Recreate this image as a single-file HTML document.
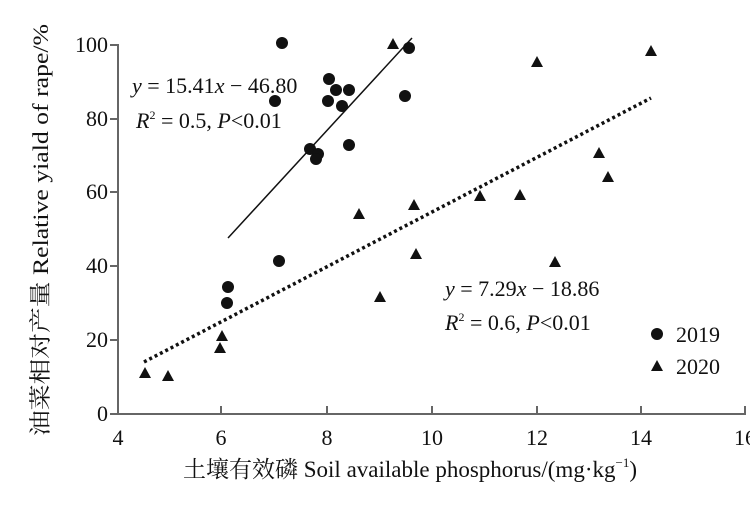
<!DOCTYPE html>
<html><head><meta charset="utf-8"><style>
body{margin:0;background:#fff}
svg text{font-family:"Liberation Serif","Noto Serif CJK SC",serif;fill:#111}
</style></head><body>
<svg width="750" height="500" viewBox="0 0 750 500" xmlns="http://www.w3.org/2000/svg">
<g stroke="#666" stroke-width="2" fill="none">
<path d="M118 44 V414 H746"/>
<path d="M110 45H118M110 119H118M110 192H118M110 266H118M110 340H118M110 414H118"/>
<path d="M221 414V406M327 414V406M432 414V406M537 414V406M641 414V406M745 414V406"/>
</g>
<g font-size="22" text-anchor="end">
<text x="108" y="52">100</text><text x="108" y="126">80</text><text x="108" y="199">60</text>
<text x="108" y="273">40</text><text x="108" y="347">20</text><text x="108" y="421">0</text>
</g>
<g font-size="22" text-anchor="middle">
<text x="118" y="445">4</text><text x="221" y="445">6</text><text x="327" y="445">8</text>
<text x="432" y="445">10</text><text x="537" y="445">12</text><text x="641" y="445">14</text><text x="745" y="445">16</text>
</g>
<text x="183" y="477" font-size="23">土壤有效磷 Soil available phosphorus/(mg·kg<tspan font-size="13" dy="-10">−1</tspan><tspan dy="10">)</tspan></text>
<text transform="translate(48,230) rotate(-90)" font-size="22" text-anchor="middle" textLength="412" lengthAdjust="spacingAndGlyphs">油菜相对产量 Relative yiald of rape/%</text>
<line x1="228" y1="238" x2="412" y2="38" stroke="#111" stroke-width="1.5"/>
<line x1="144" y1="362" x2="651" y2="98" stroke="#111" stroke-width="3.5" stroke-dasharray="3 3"/>
<g fill="#111">
<circle cx="282" cy="43" r="6"/><circle cx="275" cy="101" r="6"/><circle cx="329" cy="79" r="6"/>
<circle cx="336" cy="90" r="6"/><circle cx="349" cy="90" r="6"/><circle cx="328" cy="101" r="6"/>
<circle cx="342" cy="106" r="6"/><circle cx="349" cy="145" r="6"/><circle cx="409" cy="48" r="6"/>
<circle cx="405" cy="96" r="6"/><circle cx="310" cy="149" r="6"/><circle cx="318" cy="154" r="6"/>
<circle cx="316" cy="159" r="6"/><circle cx="279" cy="261" r="6"/><circle cx="228" cy="287" r="6"/>
<circle cx="227" cy="303" r="6"/><circle cx="657" cy="334" r="6"/>
</g>
<g fill="#111">
<path d="M0 -6 L6 5 L-6 5Z" transform="translate(393,44)"/>
<path d="M0 -6 L6 5 L-6 5Z" transform="translate(537,62)"/>
<path d="M0 -6 L6 5 L-6 5Z" transform="translate(651,51)"/>
<path d="M0 -6 L6 5 L-6 5Z" transform="translate(359,214)"/>
<path d="M0 -6 L6 5 L-6 5Z" transform="translate(414,205)"/>
<path d="M0 -6 L6 5 L-6 5Z" transform="translate(480,196)"/>
<path d="M0 -6 L6 5 L-6 5Z" transform="translate(520,195)"/>
<path d="M0 -6 L6 5 L-6 5Z" transform="translate(599,153)"/>
<path d="M0 -6 L6 5 L-6 5Z" transform="translate(608,177)"/>
<path d="M0 -6 L6 5 L-6 5Z" transform="translate(416,254)"/>
<path d="M0 -6 L6 5 L-6 5Z" transform="translate(380,297)"/>
<path d="M0 -6 L6 5 L-6 5Z" transform="translate(555,262)"/>
<path d="M0 -6 L6 5 L-6 5Z" transform="translate(222,336)"/>
<path d="M0 -6 L6 5 L-6 5Z" transform="translate(220,348)"/>
<path d="M0 -6 L6 5 L-6 5Z" transform="translate(145,373)"/>
<path d="M0 -6 L6 5 L-6 5Z" transform="translate(168,376)"/>
<path d="M0 -6 L6 5 L-6 5Z" transform="translate(657,366)"/>
</g>
<g font-size="22">
<text x="132" y="93"><tspan font-style="italic">y</tspan> = 15.41<tspan font-style="italic">x</tspan> − 46.80</text>
<text x="136" y="128"><tspan font-style="italic">R</tspan><tspan font-size="12" dy="-9">2</tspan><tspan dy="9"> = 0.5, </tspan><tspan font-style="italic">P</tspan>&lt;0.01</text>
<text x="445" y="296"><tspan font-style="italic">y</tspan> = 7.29<tspan font-style="italic">x</tspan> − 18.86</text>
<text x="445" y="330"><tspan font-style="italic">R</tspan><tspan font-size="12" dy="-9">2</tspan><tspan dy="9"> = 0.6, </tspan><tspan font-style="italic">P</tspan>&lt;0.01</text>
<text x="676" y="342">2019</text>
<text x="676" y="374">2020</text>
</g>
</svg>
</body></html>
